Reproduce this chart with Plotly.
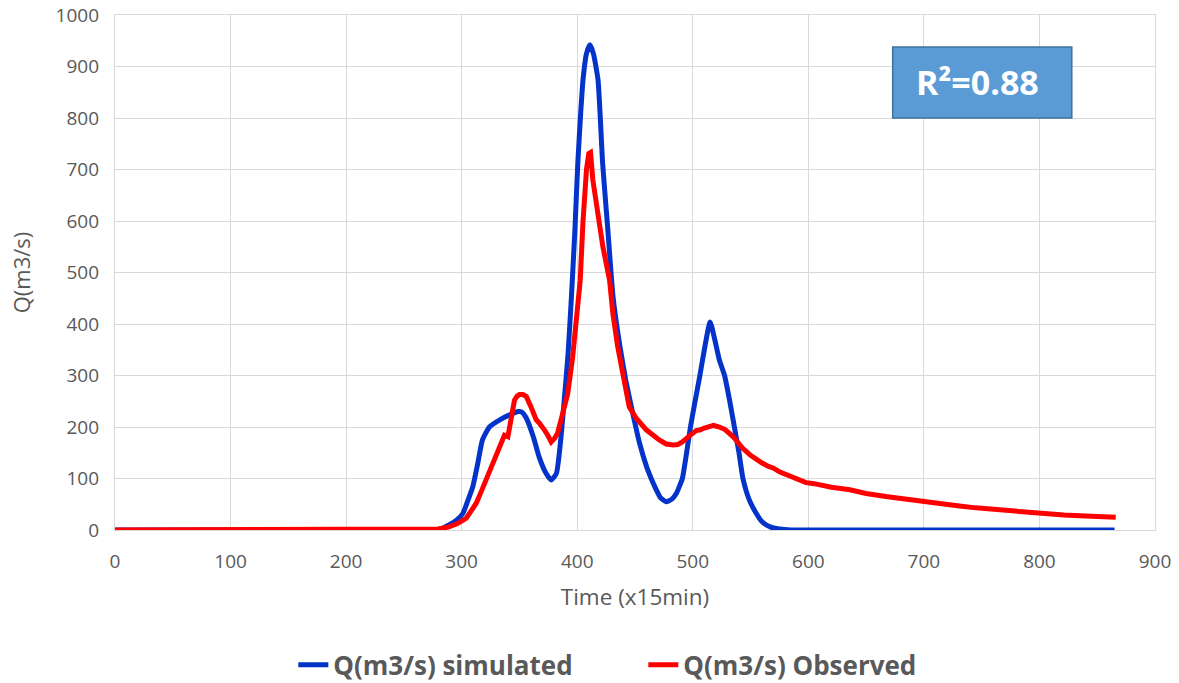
import plotly.graph_objects as go

# Simulated discharge
sim_t = [0, 100, 200, 270, 282, 289, 295, 301, 305, 309.6, 314, 318, 324, 333, 341, 349, 352,
         356, 362, 367, 373, 377.5, 382, 386, 389, 392, 395, 398, 400.5, 403, 405, 408, 411,
         414, 418, 422, 426.5, 431, 437, 442, 448, 454, 460, 464, 468, 472, 477, 482, 486, 489,
         491, 494, 498, 502, 506, 510, 515, 519, 523, 527.5, 532, 536, 540, 543.4, 549, 555,
         560, 567, 575, 585, 600, 700, 800, 865]
sim_q = [0, 0, 0, 0, 2, 10, 18, 32, 55, 84, 130, 175, 200, 214, 223, 230, 229,
         217, 181, 142, 110, 97, 110, 181, 259, 340, 453, 583, 712, 810, 874, 925, 942,
         925, 874, 712, 583, 453, 356, 291, 227, 168, 123, 100, 80, 63, 55, 60, 72, 88,
         100, 140, 200, 250, 298, 350, 404, 370, 330, 300, 250, 200, 150, 100, 58, 32,
         16, 6, 2, 0, 0, 0, 0, 0]

# Observed discharge
obs_t = [0, 95, 100, 200, 280, 289, 296, 304, 308, 312.6, 317, 321, 325, 328.4, 334, 337, 340,
         342.8, 345.7, 348, 350, 353, 356, 360, 364.5, 367.4, 370, 371.7, 374.5, 377.5, 380.4,
         383, 387.5, 391.8, 396, 400.5, 402.6, 404.9, 406.3, 408, 410, 411.5, 413.5, 417.8,
         422.2, 428, 430.8, 435, 439.5, 445, 451, 460, 471, 477, 483, 487, 491, 496, 500, 503,
         506, 510, 514.7, 518, 523, 528, 535, 543, 550, 556, 560, 565, 570, 575, 581, 586, 592,
         598, 605, 611, 620, 636, 650, 667, 683, 698, 714, 729, 745, 760, 775, 790, 805, 821,
         840, 855, 866]
obs_q = [0, 0, 2, 2, 2, 6, 12, 23, 35, 52, 75, 97, 118, 136, 168, 184, 181,
         214, 252, 260, 263, 263, 259, 239, 214, 207, 200, 194, 184, 171, 178,
         188, 227, 265, 335, 433, 485, 595, 647, 700, 731, 733, 680, 615,
         550, 485, 421, 356, 298, 239, 217, 194, 175, 167, 165, 166, 171, 182, 188, 193,
         194, 198, 200, 203, 200, 195, 181, 159, 145, 135, 130, 124, 120, 113, 108, 103, 98,
         92, 90, 87, 83, 78, 71, 65, 60, 55, 51, 47, 43, 40, 37, 34, 31, 29,
         27, 26, 25]

x_ticks = [0, 100, 200, 300, 400, 500, 600, 700, 800, 900]
y_ticks = [0, 100, 200, 300, 400, 500, 600, 700, 800, 900, 1000]

FONT = "Open Sans"
GREY = "#595959"
GRID = "#d9d9d9"

fig = go.Figure()
fig.add_trace(go.Scatter(x=sim_t, y=sim_q, mode="lines", name="Q(m3/s) simulated",
                         line=dict(color="#0433C9", width=5, shape="spline", smoothing=0.5)))
fig.add_trace(go.Scatter(x=obs_t, y=obs_q, mode="lines", name="Q(m3/s) Observed",
                         line=dict(color="#FF0000", width=5)))

fig.add_shape(type="rect", xref="x", yref="y", x0=673, x1=828, y0=800, y1=938,
              fillcolor="#5B9BD5", line=dict(color="#41719C", width=1.5), layer="above")
fig.add_annotation(x=746, y=870, xref="x", yref="y", text="R²=0.88", showarrow=False,
                   font=dict(family=FONT, size=34, color="white", weight="bold"))

fig.update_layout(
    width=1179, height=683,
    margin=dict(l=115, r=24, t=15, b=153, autoexpand=False),
    paper_bgcolor="white", plot_bgcolor="white",
    font=dict(family=FONT, color=GREY),
    showlegend=True,
    legend=dict(orientation="h", x=0.508, xanchor="center", y=-0.262, yanchor="middle",
                font=dict(family=FONT, size=26, color=GREY, weight="bold"),
                entrywidth=305, traceorder="normal", bgcolor="rgba(0,0,0,0)"),
)
fig.update_xaxes(range=[0, 900], tickvals=x_ticks, ticktext=[str(v) for v in x_ticks],
                 automargin=False, ticklabeloverflow="allow",
                 showgrid=True, gridcolor=GRID, gridwidth=1.3, zeroline=False,
                 showline=True, linecolor=GRID, linewidth=1.3, mirror=True,
                 ticks="", tickfont=dict(family=FONT, size=19, color=GREY), ticklabelstandoff=14,
                 title=dict(text="Time (x15min)", font=dict(family=FONT, size=22.5, color=GREY), standoff=16))
fig.update_yaxes(range=[0, 1000], tickvals=y_ticks, ticktext=[str(v) for v in y_ticks],
                 automargin=False, ticklabeloverflow="allow",
                 showgrid=True, gridcolor=GRID, gridwidth=1.3, zeroline=False,
                 showline=True, linecolor=GRID, linewidth=1.3, mirror=True,
                 ticks="", tickfont=dict(family=FONT, size=19, color=GREY),
                 ticklabelstandoff=11,
                 title=dict(text="Q(m3/s)", font=dict(family=FONT, size=22, color=GREY), standoff=18))

# remove the default 8px page margin so the figure fills the window exactly
fig.write_html("out.html", config={"displayModeBar": False},
               post_script="document.body.style.margin='0';document.body.style.overflow='hidden';")
